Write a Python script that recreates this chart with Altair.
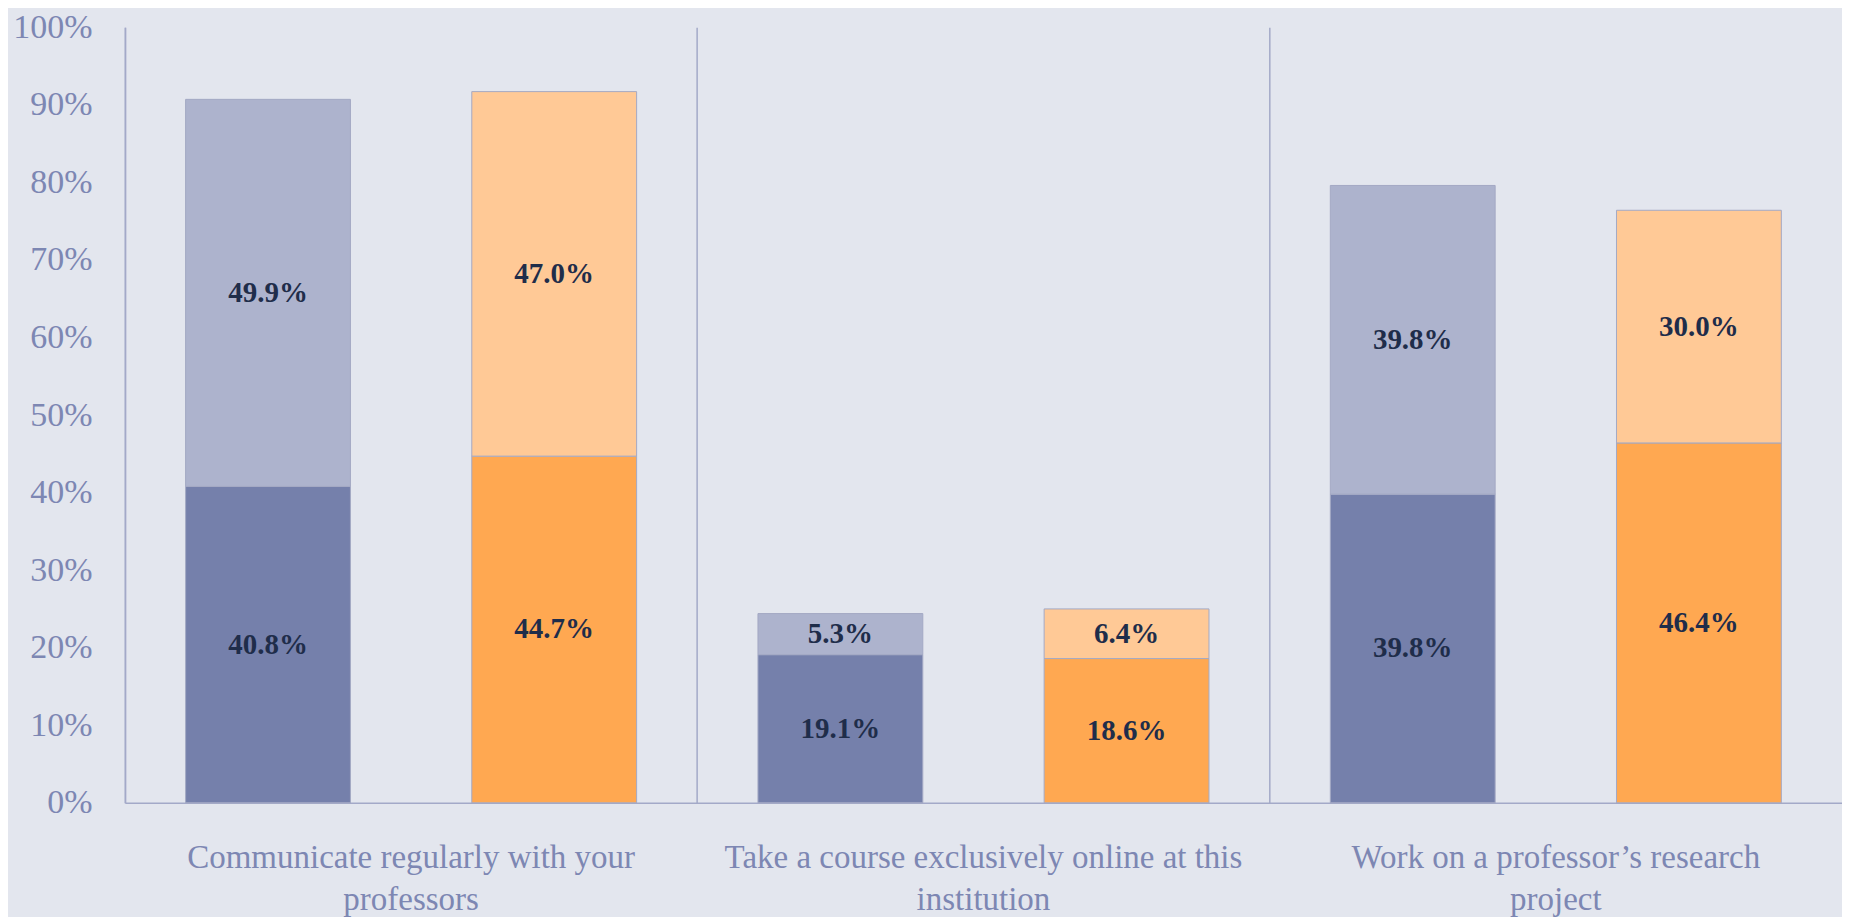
import altair as alt
import pandas as pd

categories = [
    "Communicate regularly with your|professors",
    "Take a course exclusively online at this|institution",
    "Work on a professor\u2019s research|project",
]
groups = ["Group A", "Group B"]
levels = ["Very often", "Often"]
# values [category][group] = (bottom, top)
bottom_a = [40.8, 19.1, 39.8]
top_a = [49.9, 5.3, 39.8]
bottom_b = [44.7, 18.6, 46.4]
top_b = [47.0, 6.4, 30.0]

rows = []
for i, c in enumerate(categories):
    rows.append(dict(cat=c, grp="Group A", lvl="Very often", key="A1", ord=0, value=bottom_a[i]))
    rows.append(dict(cat=c, grp="Group A", lvl="Often", key="A2", ord=1, value=top_a[i]))
    rows.append(dict(cat=c, grp="Group B", lvl="Very often", key="B1", ord=0, value=bottom_b[i]))
    rows.append(dict(cat=c, grp="Group B", lvl="Often", key="B2", ord=1, value=top_b[i]))
df = pd.DataFrame(rows)

axis_color = "#a3a9c8"
label_color = "#7d87b3"
font = "Liberation Serif"

x_enc = alt.X(
    "cat:N",
    sort=categories,
    title=None,
    scale=alt.Scale(paddingInner=0, paddingOuter=0),
    axis=alt.Axis(
        labelExpr="split(datum.label, '|')",
        labelAngle=0,
        labelFont=font,
        labelFontSize=33,
        labelColor=label_color,
        labelLineHeight=42,
        labelPadding=39,
        labelBaseline="top",
        labelLimit=0,
        ticks=False,
        grid=True,
        gridColor=axis_color,
        gridWidth=1.5,
        bandPosition=0,
        domainColor=axis_color,
        domainWidth=1.5,
    ),
)
xoff = alt.XOffset("grp:N", sort=groups, scale=alt.Scale(paddingInner=0.424, paddingOuter=0.212))

base = alt.Chart(df).transform_stack(
    stack="value", groupby=["cat", "grp"], as_=["v0", "v1"], sort=[alt.SortField("ord")]
).transform_calculate(
    mid="(datum.v0 + datum.v1) / 2",
    lab="format(datum.value, '.1f') + '%'",
)

bars = base.mark_bar(stroke="#a4a9c4", strokeWidth=1).encode(
    x=x_enc,
    xOffset=xoff,
    y=alt.Y(
        "v0:Q",
        scale=alt.Scale(domain=[0, 100]),
        title=None,
        axis=alt.Axis(
            values=list(range(0, 101, 10)),
            labelExpr="datum.value + '%'",
            labelFont=font,
            labelFontSize=34,
            labelColor=label_color,
            labelPadding=33,
            ticks=False,
            grid=False,
            domainColor=axis_color,
            domainWidth=1.5,
        ),
    ),
    y2="v1:Q",
    color=alt.Color(
        "key:N",
        scale=alt.Scale(domain=["A1", "A2", "B1", "B2"], range=["#7580ab", "#adb3cd", "#ffa851", "#ffc996"]),
        legend=None,
    ),
)

labels = base.mark_text(font=font, fontSize=29, fontWeight="bold", color="#1f2d4a", baseline="middle").encode(
    x=alt.X("cat:N", sort=categories),
    xOffset=xoff,
    y=alt.Y("mid:Q"),
    text="lab:N",
)

chart = (
    alt.layer(bars, labels)
    .properties(width=1718, height=776, background="#e3e6ee", padding={"left": 4, "top": 2, "right": 0, "bottom": 0})
    .configure_view(stroke=None)
)

chart.save("out.html", embed_options={"renderer": "svg", "actions": False})
